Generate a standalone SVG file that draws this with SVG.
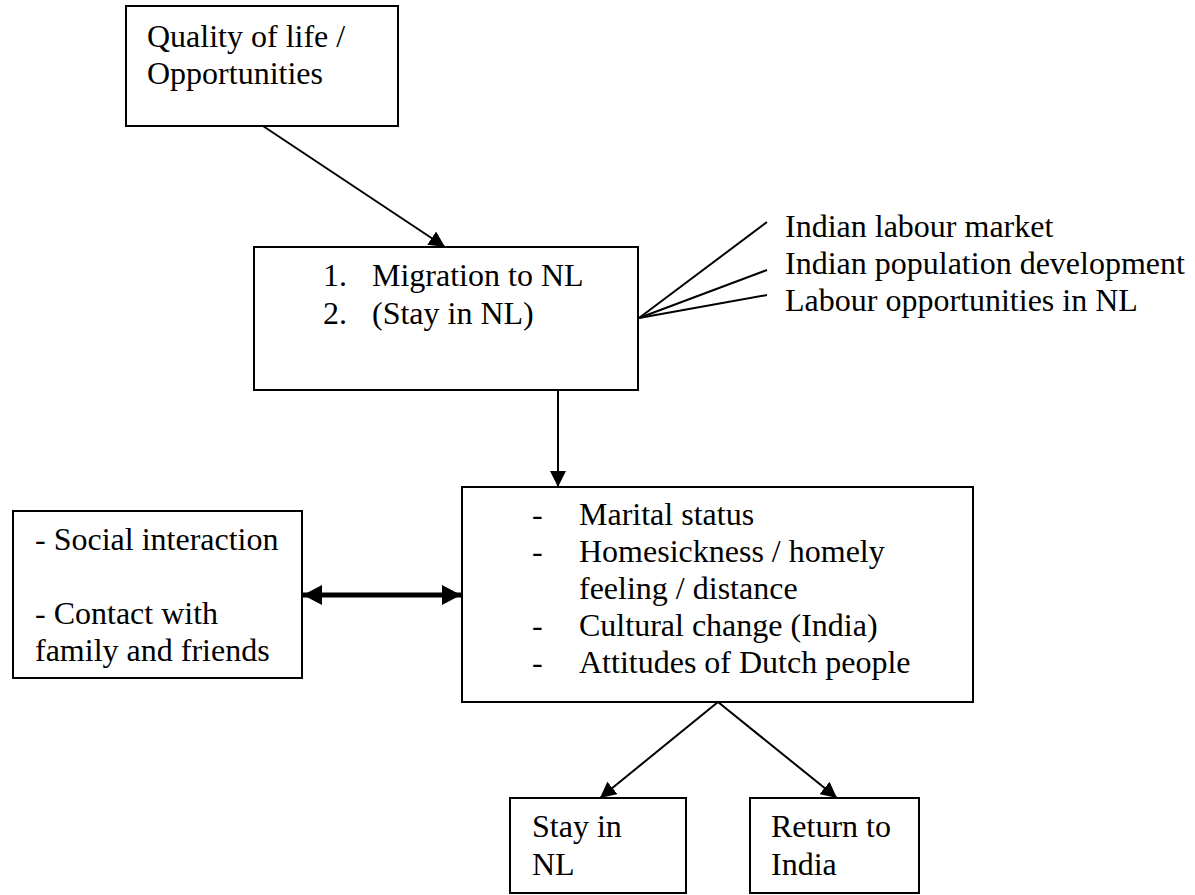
<svg xmlns="http://www.w3.org/2000/svg" width="1195" height="895" viewBox="0 0 1195 895">
<style>
.box{fill:#fff;stroke:#000;stroke-width:2}
.t{font-family:"Liberation Serif","Times New Roman",serif;font-size:32px;fill:#000}
.ln{stroke:#000;stroke-width:2;fill:none}
.thick{stroke:#000;stroke-width:5;fill:none}
</style>
<defs>
<marker id="ah" markerUnits="userSpaceOnUse" viewBox="0 0 16 16" refX="16" refY="8" markerWidth="16" markerHeight="16" orient="auto">
<path d="M0,0 L16,8 L0,16 z" fill="#000"/>
</marker>
<marker id="ahb" markerUnits="userSpaceOnUse" viewBox="0 0 19 20" refX="19" refY="10" markerWidth="19" markerHeight="20" orient="auto-start-reverse">
<path d="M0,0 L19,10 L0,20 z" fill="#000"/>
</marker>
</defs>
<rect width="1195" height="895" fill="#fff"/>
<g id="connectors">
<line class="ln" x1="263" y1="126" x2="445" y2="247" marker-end="url(#ah)"/>
<line class="ln" x1="558" y1="390" x2="558" y2="487" marker-end="url(#ah)"/>
<line class="thick" x1="303" y1="595" x2="461" y2="595" marker-start="url(#ahb)" marker-end="url(#ahb)"/>
<line class="ln" x1="718" y1="702" x2="600" y2="798" marker-end="url(#ah)"/>
<line class="ln" x1="718" y1="702" x2="837" y2="798" marker-end="url(#ah)"/>
<line class="ln" x1="639" y1="318" x2="767" y2="222"/>
<line class="ln" x1="639" y1="318" x2="767" y2="270"/>
<line class="ln" x1="639" y1="318" x2="767" y2="295"/>
</g>
<g id="quality">
<rect class="box" x="126" y="6" width="272" height="120"/>
<text class="t" x="147" y="47">Quality of life /</text>
<text class="t" x="147" y="84">Opportunities</text>
</g>
<g id="migration">
<rect class="box" x="254" y="247" width="384" height="143"/>
<text class="t" x="323" y="286">1.</text>
<text class="t" x="372" y="286">Migration to NL</text>
<text class="t" x="323" y="324">2.</text>
<text class="t" x="372" y="324">(Stay in NL)</text>
</g>
<g id="factors">
<text class="t" x="785" y="237">Indian labour market</text>
<text class="t" x="785" y="274">Indian population development</text>
<text class="t" x="785" y="311">Labour opportunities in NL</text>
</g>
<g id="social">
<rect class="box" x="13" y="511" width="289" height="167"/>
<text class="t" x="35" y="550">- Social interaction</text>
<text class="t" x="35" y="624">- Contact with</text>
<text class="t" x="35" y="661">family and friends</text>
</g>
<g id="personal">
<rect class="box" x="462" y="487" width="511" height="215"/>
<text class="t" x="532" y="525">-</text>
<text class="t" x="579" y="525">Marital status</text>
<text class="t" x="532" y="562">-</text>
<text class="t" x="579" y="562">Homesickness / homely</text>
<text class="t" x="579" y="599">feeling / distance</text>
<text class="t" x="532" y="636">-</text>
<text class="t" x="579" y="636">Cultural change (India)</text>
<text class="t" x="532" y="673">-</text>
<text class="t" x="579" y="673">Attitudes of Dutch people</text>
</g>
<g id="stay">
<rect class="box" x="510" y="798" width="176" height="95"/>
<text class="t" x="532" y="837">Stay in</text>
<text class="t" x="532" y="875">NL</text>
</g>
<g id="return">
<rect class="box" x="750" y="798" width="169" height="95"/>
<text class="t" x="771" y="837">Return to</text>
<text class="t" x="771" y="875">India</text>
</g>
</svg>
